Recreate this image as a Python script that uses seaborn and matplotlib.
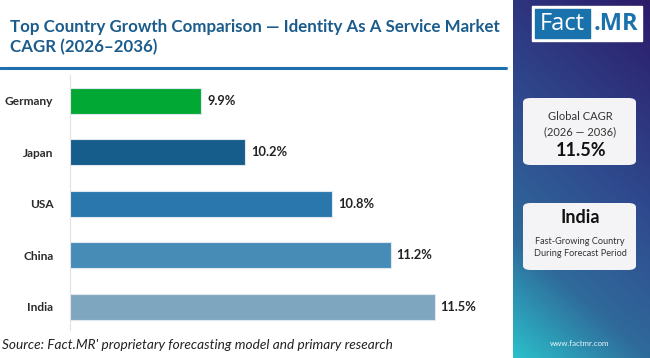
import numpy as np
import pandas as pd
import seaborn as sns
import matplotlib.pyplot as plt
from matplotlib.colors import LinearSegmentedColormap
from matplotlib.patches import FancyBboxPatch, Rectangle

# data
countries = ['Germany', 'Japan', 'USA', 'China', 'India']
cagr = [9.9, 10.2, 10.8, 11.2, 11.5]
bar_colors = ['#02a834', '#165d8c', '#2a77ad', '#468cb7', '#7fa6bf']
labels = ['9.9%', '10.2%', '10.8%', '11.2%', '11.5%']

title = 'Top Country Growth Comparison \u2014 Identity As A Service Market\nCAGR (2026\u20132036)'
source = "Source: Fact.MR' proprietary forecasting model and primary research"

df = pd.DataFrame({'country': countries, 'cagr': cagr})

sns.set_style('white')
plt.rcParams['font.family'] = ['Lato', 'DejaVu Sans']

W, H = 650, 358
fig = plt.figure(figsize=(6.5, 3.58), dpi=100)

def fx(px):
    return px / W

def fy(py):
    return 1 - py / H

# title + rule
fig.text(fx(10), fy(37), title, fontsize=12.2, fontweight='bold', color='#1b5c8c',
         va='center', ha='left', linespacing=1.35)
fig.add_artist(plt.Line2D([0, fx(506)], [fy(68), fy(68)], color='#1f6fae', lw=2.2))

# main bars
ax = fig.add_axes([fx(70), fy(330), fx(471) - fx(70), fy(75) - fy(330)])
sns.barplot(data=df, y='country', x='cagr', hue='country', palette=bar_colors,
            saturation=1, legend=False, orient='h', width=0.5,
            edgecolor='#dfe8ef', linewidth=0.8, ax=ax)
ax.set_xlim(9.0, 11.75)
ax.set_ylim(4.45, -0.5)
ax.set_xlabel('')
ax.set_ylabel('')
ax.set_xticks([])
for s in ['top', 'right', 'bottom']:
    ax.spines[s].set_visible(False)
ax.spines['left'].set_color('#e2e2e2')
ax.tick_params(axis='y', length=0, labelsize=8.6, pad=12)
for t in ax.get_yticklabels():
    t.set_fontweight('bold')
    t.set_color('#2a2a2a')
ax.set_yticks([0.5, 1.5, 2.5, 3.5], minor=True)
ax.tick_params(axis='y', which='minor', length=4, color='#e2e2e2', width=0.8)
for i, v in enumerate(cagr):
    ax.text(v + 0.04, i, labels[i], va='center', ha='left', fontsize=9.3,
            fontweight='bold', color='#222222')

# right panel gradient
pan = fig.add_axes([fx(513), 0, 1 - fx(513), 1])
cmap = LinearSegmentedColormap.from_list('p', [(0, '#2c1b69'), (0.45, '#2f4a8e'),
                                               (0.75, '#2f6a9b'), (1, '#2bbfca')])
yy, xx = np.mgrid[0:1:200j, 0:1:100j]
grad = 0.75 * yy + 0.25 * (1 - xx)
pan.imshow(grad, cmap=cmap, aspect='auto', extent=[0, 1, 1, 0], vmin=0, vmax=1)
pan.set_xlim(0, 1)
pan.set_ylim(1, 0)
pan.axis('off')

# logo
fig.add_artist(Rectangle((fx(532), fy(41)), fx(642) - fx(532), fy(6) - fy(41),
                         transform=fig.transFigure, color='white'))
fig.add_artist(Rectangle((fx(535), fy(38)), fx(590) - fx(535), fy(9) - fy(38),
                         transform=fig.transFigure, color='#1a72ad'))
fig.text(fx(562), fy(24), 'Fact', fontsize=17, color='white', ha='center', va='center',
         family=['Open Sans', 'DejaVu Sans'])
fig.text(fx(616), fy(24), '.MR', fontsize=17, color='#1a72ad', ha='center', va='center',
         fontweight='bold', family=['Open Sans', 'DejaVu Sans'])

# info boxes
for top, bot in [(98, 165), (203, 270)]:
    fig.add_artist(FancyBboxPatch((fx(523), fy(bot)), fx(636) - fx(523), fy(top) - fy(bot),
                                  boxstyle='round,pad=0,rounding_size=0.012',
                                  transform=fig.transFigure, facecolor='#f4f4f6',
                                  edgecolor='none'))
fig.text(fx(580), fy(117), 'Global CAGR', fontsize=8, color='#333333', ha='center', va='center')
fig.text(fx(580), fy(132), '(2026 \u2014 2036)', fontsize=8, color='#333333', ha='center', va='center')
fig.text(fx(581), fy(151), '11.5%', fontsize=13, fontweight='bold', color='#111111',
         ha='center', va='center')
fig.text(fx(580), fy(217), 'India', fontsize=13, fontweight='bold', color='#111111',
         ha='center', va='center')
fig.text(fx(580), fy(241), 'Fast-Growing Country', fontsize=6.6, color='#333333',
         ha='center', va='center')
fig.text(fx(580), fy(254), 'During Forecast Period', fontsize=6.6, color='#333333',
         ha='center', va='center')
fig.text(fx(580), fy(343), 'www.factmr.com', fontsize=5.7, color='#e8f4f8',
         ha='center', va='center')

# source
fig.text(fx(2), fy(345), source, fontsize=9.8, style='italic', color='#222222',
         ha='left', va='center')

fig.savefig('out.png', dpi=100)
